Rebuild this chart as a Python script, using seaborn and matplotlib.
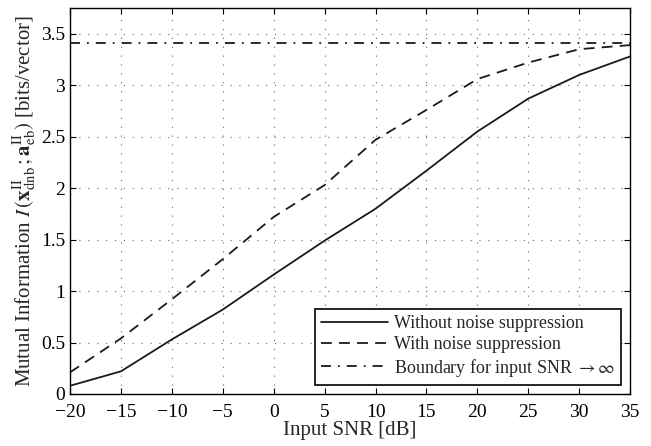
import numpy as np
import pandas as pd
import matplotlib
matplotlib.use("Agg")
import matplotlib.pyplot as plt
import seaborn as sns

snr_db = [-20, -15, -10, -5, 0, 5, 10, 15, 20, 25, 30, 35]
without_ns = [0.08, 0.22, 0.53, 0.82, 1.16, 1.49, 1.80, 2.17, 2.55, 2.87, 3.10, 3.28]
with_ns = [0.21, 0.54, 0.92, 1.31, 1.72, 2.03, 2.47, 2.76, 3.06, 3.22, 3.35, 3.39]
boundary = 3.41

sns.set_style("ticks")
plt.rcParams['font.family'] = ['Liberation Serif', 'DejaVu Serif']
plt.rcParams['mathtext.fontset'] = 'stix'
plt.rcParams['font.size'] = 14

df = pd.DataFrame({'snr': snr_db, 'without': without_ns, 'with': with_ns})

fig = plt.figure(figsize=(6.51, 4.46), dpi=100)
ax = fig.add_axes([0.1075, 0.1166, 0.8605, 0.8654])

line_col = '#1a1a1a'
sns.lineplot(data=df, x='snr', y='without', ax=ax, color=line_col, linewidth=1.3,
             label='Without noise suppression')
sns.lineplot(data=df, x='snr', y='with', ax=ax, color=line_col, linewidth=1.3,
             linestyle=(0, (6, 4)), label='With noise suppression')
ax.axhline(boundary, color=line_col, linewidth=1.3, linestyle=(0, (5.5, 3.9, 1, 3.9)),
           label=r'Boundary for input SNR $\rightarrow\infty$')

ax.set_xlim(-20, 35)
ax.set_ylim(0, 3.75)
ax.set_xticks(np.arange(-20, 36, 5))
ax.set_yticks(np.arange(0, 3.6, 0.5))
ax.set_yticklabels(['0', '0.5', '1', '1.5', '2', '2.5', '3', '3.5'])
ax.set_xticklabels([str(v).replace('-', '\u2212') for v in range(-20, 36, 5)])
ax.grid(True, color='#666666', linestyle=(0, (1, 7)), linewidth=0.8)
ax.tick_params(direction='in', top=True, right=True, length=4, labelsize=14, colors='black')
ax.tick_params(axis='x', pad=7)
for s in ax.spines.values():
    s.set_color('black')
    s.set_linewidth(1.0)

ax.set_xlabel('Input SNR [dB]', fontsize=15, labelpad=0)
ax.set_ylabel(r'Mutual Information $I\,(\mathbf{x}_{\mathrm{dnb}}^{\mathrm{II}}\,;\mathbf{a}_{\mathrm{eb}}^{\mathrm{II}})$ [bits/vector]',
              fontsize=15, labelpad=1)

leg = ax.legend(loc='lower right', fontsize=13, frameon=True, fancybox=False,
                edgecolor='black', framealpha=1, borderaxespad=0.5, handlelength=3.7,
                handletextpad=0.3, labelspacing=0.2, borderpad=0.35)
leg.get_frame().set_linewidth(1.2)

fig.savefig('out.png', dpi=100)
